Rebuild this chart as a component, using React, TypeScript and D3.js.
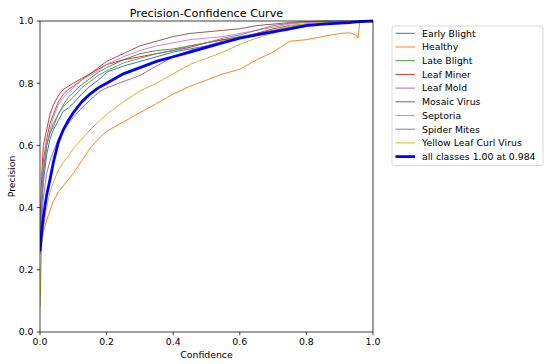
import React from "react";
import * as d3 from "d3";

// confidence grid shared by every curve
const confidence = [
  0, 0.005, 0.01, 0.02, 0.03, 0.04, 0.055, 0.07, 0.085, 0.1, 0.125, 0.15, 0.175, 0.2,
  0.25, 0.3, 0.35, 0.4, 0.45, 0.5, 0.55, 0.6, 0.65, 0.7, 0.75, 0.8, 0.85, 0.9,
  0.93, 0.95, 0.955, 0.96, 1.0,
];

const earlyBlight = [
  0.3, 0.4, 0.48, 0.57, 0.62, 0.65, 0.68, 0.71, 0.72, 0.735, 0.765, 0.79, 0.81, 0.835,
  0.855, 0.87, 0.885, 0.9, 0.91, 0.92, 0.935, 0.945, 0.955, 0.965, 0.975, 0.985, 0.99, 0.995,
  0.996, 0.997, 0.997, 0.998, 1.0,
];
const healthy = [
  0.25, 0.29, 0.32, 0.36, 0.39, 0.42, 0.45, 0.47, 0.49, 0.51, 0.55, 0.59, 0.62, 0.645,
  0.675, 0.705, 0.735, 0.765, 0.79, 0.81, 0.83, 0.845, 0.875, 0.9, 0.935, 0.94, 0.95, 0.96,
  0.962, 0.955, 0.945, 0.995, 1.0,
];
const lateBlight = [
  0.3, 0.42, 0.5, 0.6, 0.64, 0.66, 0.7, 0.73, 0.755, 0.77, 0.795, 0.815, 0.835, 0.85,
  0.875, 0.895, 0.905, 0.91, 0.92, 0.93, 0.94, 0.95, 0.96, 0.97, 0.98, 0.99, 0.993, 0.996,
  0.997, 0.998, 0.998, 0.998, 1.0,
];
const leafMiner = [
  0.32, 0.5, 0.6, 0.65, 0.7, 0.73, 0.76, 0.78, 0.79, 0.8, 0.815, 0.83, 0.845, 0.86,
  0.875, 0.885, 0.895, 0.905, 0.915, 0.93, 0.94, 0.945, 0.96, 0.975, 0.985, 0.99, 0.995, 0.997,
  0.998, 0.998, 0.998, 0.999, 1.0,
];
const leafMold = [
  0.28, 0.36, 0.43, 0.51, 0.55, 0.58, 0.62, 0.65, 0.67, 0.69, 0.72, 0.745, 0.77, 0.785,
  0.805, 0.825, 0.855, 0.885, 0.905, 0.92, 0.935, 0.948, 0.958, 0.968, 0.978, 0.985, 0.99, 0.995,
  0.996, 0.997, 0.997, 0.998, 1.0,
];
const mosaicVirus = [
  0.3, 0.45, 0.55, 0.62, 0.67, 0.7, 0.74, 0.765, 0.78, 0.79, 0.81, 0.83, 0.85, 0.87,
  0.895, 0.92, 0.935, 0.95, 0.96, 0.965, 0.97, 0.975, 0.985, 0.99, 0.995, 0.998, 1.0, 1.0,
  1.0, 1.0, 1.0, 1.0, 1.0,
];
const septoria = [
  0.3, 0.44, 0.52, 0.6, 0.65, 0.69, 0.73, 0.755, 0.77, 0.785, 0.81, 0.825, 0.84, 0.86,
  0.885, 0.905, 0.92, 0.93, 0.94, 0.945, 0.95, 0.96, 0.97, 0.98, 0.99, 0.995, 0.997, 0.998,
  0.998, 0.999, 0.999, 0.999, 1.0,
];
const spiderMites = [
  0.31, 0.43, 0.51, 0.6, 0.64, 0.67, 0.7, 0.725, 0.74, 0.755, 0.785, 0.805, 0.825, 0.84,
  0.865, 0.88, 0.895, 0.905, 0.92, 0.93, 0.945, 0.955, 0.97, 0.985, 0.993, 0.997, 0.998, 0.999,
  0.999, 0.999, 0.999, 0.999, 1.0,
];
const yellowLeafCurl = [
  0.08, 0.27, 0.33, 0.4, 0.45, 0.48, 0.52, 0.545, 0.565, 0.59, 0.62, 0.65, 0.675, 0.7,
  0.74, 0.775, 0.8, 0.83, 0.86, 0.88, 0.9, 0.925, 0.945, 0.96, 0.985, 0.99, 0.995, 0.997,
  0.998, 0.998, 0.998, 0.999, 1.0,
];
const allClasses = [
  0.26, 0.32, 0.37, 0.44, 0.49, 0.545, 0.61, 0.65, 0.68, 0.705, 0.74, 0.765, 0.785, 0.8,
  0.83, 0.85, 0.87, 0.885, 0.9, 0.915, 0.93, 0.945, 0.955, 0.965, 0.975, 0.985, 0.99, 0.993,
  0.995, 0.997, 0.997, 0.998, 1.0,
];

const classNames = [
  "Early Blight", "Healthy", "Late Blight", "Leaf Miner", "Leaf Mold",
  "Mosaic Virus", "Septoria", "Spider Mites", "Yellow Leaf Curl Virus",
];
const classValues = [
  earlyBlight, healthy, lateBlight, leafMiner, leafMold,
  mosaicVirus, septoria, spiderMites, yellowLeafCurl,
];
const allLabel = "all classes 1.00 at 0.984";
const ticks = [0, 0.2, 0.4, 0.6, 0.8, 1.0];

const colors = d3.schemeCategory10;
const W = 550;
const H = 364;
const plot = { left: 40, right: 373, top: 21, bottom: 332 };
const font = "DejaVu Sans, sans-serif";

export default function App() {
  const x = d3.scaleLinear().domain([0, 1]).range([plot.left, plot.right]);
  const y = d3.scaleLinear().domain([0, 1]).range([plot.bottom, plot.top]);
  const line = d3
    .line<number>()
    .x((_, i) => x(confidence[i]))
    .y((d) => y(d));

  const legendX = 392;
  const legendY = 26;
  const rowH = 13.7;

  return (
    <svg
      width={W}
      height={H}
      style={{ position: "absolute", left: 0, top: 0, background: "#fff" }}
      fontFamily={font}
    >
      <rect width={W} height={H} fill="#fff" />
      <clipPath id="plotClip">
        <rect x={plot.left} y={plot.top - 2} width={plot.right - plot.left + 2} height={plot.bottom - plot.top + 2} />
      </clipPath>

      <g clipPath="url(#plotClip)">
        {classValues.map((vals, i) => (
          <path key={classNames[i]} d={line(vals) ?? ""} fill="none" stroke={colors[i]} strokeWidth={0.95} />
        ))}
        <path d={line(allClasses) ?? ""} fill="none" stroke="#0000ff" strokeWidth={2.8} />
      </g>

      <rect
        x={plot.left}
        y={plot.top}
        width={plot.right - plot.left}
        height={plot.bottom - plot.top}
        fill="none"
        stroke="#000"
        strokeWidth={0.75}
      />

      {ticks.map((t) => (
        <g key={"x" + t}>
          <line x1={x(t)} x2={x(t)} y1={plot.bottom} y2={plot.bottom + 3.3} stroke="#000" strokeWidth={0.75} />
          <text x={x(t)} y={344.5} fontSize={9.35} textAnchor="middle">
            {t.toFixed(1)}
          </text>
        </g>
      ))}
      {ticks.map((t) => (
        <g key={"y" + t}>
          <line x1={plot.left - 3.3} x2={plot.left} y1={y(t)} y2={y(t)} stroke="#000" strokeWidth={0.75} />
          <text x={33.5} y={y(t) + 3.4} fontSize={9.35} textAnchor="end">
            {t.toFixed(1)}
          </text>
        </g>
      ))}

      <text x={(plot.left + plot.right) / 2} y={17} fontSize={11.2} textAnchor="middle">
        Precision-Confidence Curve
      </text>
      <text x={(plot.left + plot.right) / 2} y={358} fontSize={9.35} textAnchor="middle">
        Confidence
      </text>
      <text
        transform={`translate(15,${(plot.top + plot.bottom) / 2}) rotate(-90)`}
        fontSize={9.35}
        textAnchor="middle"
      >
        Precision
      </text>

      <rect
        x={legendX}
        y={legendY}
        width={151}
        height={139.5}
        rx={2}
        fill="#fff"
        fillOpacity={0.8}
        stroke="#cccccc"
        strokeWidth={0.75}
      />
      {[...classNames, allLabel].map((name, i) => {
        const ly = legendY + 7.3 + i * rowH;
        const isAll = i === classNames.length;
        return (
          <g key={name}>
            <line
              x1={legendX + 3.5}
              x2={legendX + 23}
              y1={ly}
              y2={ly}
              stroke={isAll ? "#0000ff" : colors[i]}
              strokeWidth={isAll ? 2.8 : 0.95}
            />
            <text x={legendX + 30} y={ly + 3.3} fontSize={9.35}>
              {name}
            </text>
          </g>
        );
      })}
    </svg>
  );
}
